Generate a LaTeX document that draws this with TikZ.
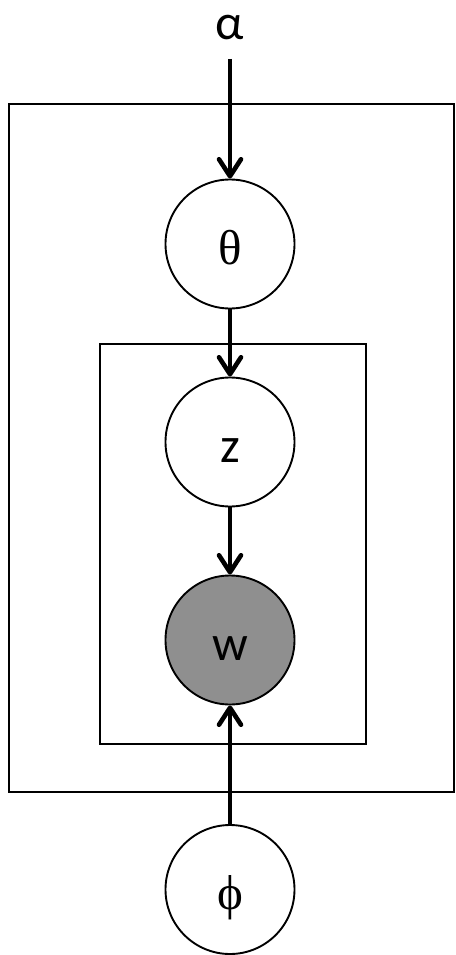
\documentclass[tikz,border=0pt]{standalone}
\usepackage{fontspec}
\setmainfont{Carlito}
\newfontfamily\greekserif{Liberation Serif}
\usetikzlibrary{arrows.meta}
\definecolor{obsgray}{RGB}{143,143,143}
\tikzset{
  plate/.style={draw=black, line width=1.7pt},
  var/.style={circle, draw=black, line width=1.9pt, fill=white,
              minimum size=129pt, inner sep=0pt,
              text height=40pt, text depth=0pt},
  observed/.style={var, fill=obsgray},
  edge/.style={line width=4.6pt,
               -{Straight Barb[length=17pt, width=22pt, round]}},
  sanslabel/.style={font=\fontsize{50}{50}\selectfont},
  seriflabel/.style={font=\greekserif\fontsize{49}{49}\selectfont}
}
\begin{document}
\begin{tikzpicture}[x=1pt, y=-1pt]
  \useasboundingbox (0,0) rectangle (455,955);

  % plates
  \draw[plate] (9,104) rectangle (454,792);
  \draw[plate] (100,344) rectangle (366,744);

  % hyperparameter
  \node[sanslabel, anchor=base, inner sep=0pt] (alpha) at (230,40) {α};
  \coordinate (alphaout) at (230,59);

  % random variables
  \node[var, seriflabel] (theta) at (230,244) {θ};
  \node[var, sanslabel] (z) at (230,442) {z};
  \node[observed, sanslabel] (w) at (230,640) {w};
  \node[var, seriflabel] (phi) at (230,889.5) {ϕ};

  % dependencies
  \draw[edge] (alphaout) -- (theta);
  \draw[edge] (theta) -- (z);
  \draw[edge] (z) -- (w);
  \draw[edge] (phi) -- (w);
\end{tikzpicture}
\end{document}
